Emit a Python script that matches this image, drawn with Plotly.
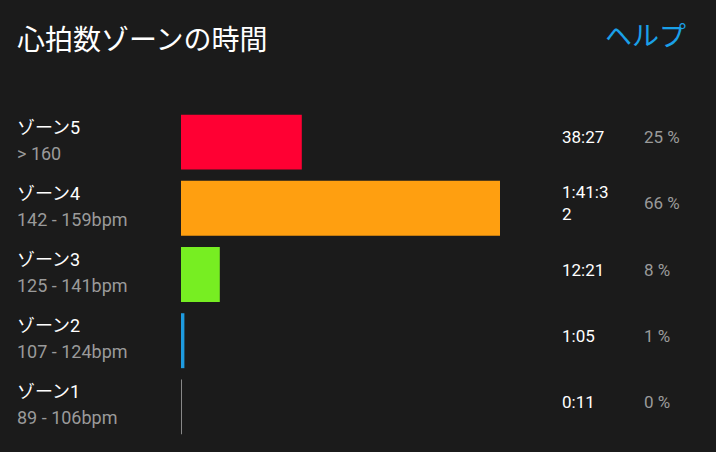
import plotly.graph_objects as go

zones = ["ゾーン5", "ゾーン4", "ゾーン3", "ゾーン2", "ゾーン1"]
ranges = ["> 160", "142 - 159bpm", "125 - 141bpm", "107 - 124bpm", "89 - 106bpm"]
seconds = [2307, 6092, 741, 65, 11]
times = ["38:27", "1:41:3<br>2", "12:21", "1:05", "0:11"]
percents = ["25 %", "66 %", "8 %", "1 %", "0 %"]
colors = ["#ff0033", "#ff9f10", "#77ee22", "#1e9be0", "#888888"]

W, H = 716, 452
font = "Roboto, 'Noto Sans CJK JP', sans-serif"

fig = go.Figure(go.Bar(
    x=seconds, y=zones, orientation="h",
    marker=dict(color=colors, line=dict(width=0)),
    hoverinfo="skip",
))

ann = [
    dict(x=15 / W, y=1 - 40 / H, xref="paper", yref="paper", text="心拍数ゾーンの時間",
         showarrow=False, xanchor="left", yanchor="middle",
         font=dict(size=28, color="#ffffff", family=font)),
    dict(x=688 / W, y=1 - 37 / H, xref="paper", yref="paper", text="ヘルプ",
         showarrow=False, xanchor="right", yanchor="middle",
         font=dict(size=27, color="#1aa0e8", family=font)),
]
for z, r, t, p in zip(zones, ranges, times, percents):
    ann.append(dict(x=15 / W, y=z, xref="paper", yref="y", text=z, showarrow=False,
                    xanchor="left", yanchor="middle", yshift=15,
                    font=dict(size=18, color="#ffffff", family=font)))
    ann.append(dict(x=15 / W, y=z, xref="paper", yref="y", text=r, showarrow=False,
                    xanchor="left", yanchor="middle", yshift=-11,
                    font=dict(size=18, color="#9a9a9a", family=font)))
    ann.append(dict(x=560 / W, y=z, xref="paper", yref="y", text=t, showarrow=False,
                    xanchor="left", yanchor="middle", align="left", yshift=5,
                    font=dict(size=17, color="#ffffff", family=font)))
    ann.append(dict(x=642 / W, y=z, xref="paper", yref="y", text=p, showarrow=False,
                    xanchor="left", yanchor="middle", yshift=5,
                    font=dict(size=17, color="#9a9a9a", family=font)))

fig.update_layout(
    width=W, height=H,
    margin=dict(l=0, r=0, t=0, b=0),
    paper_bgcolor="#1b1b1b", plot_bgcolor="#1b1b1b",
    bargap=0.17,
    showlegend=False,
    xaxis=dict(domain=[181 / W, 500 / W], range=[0, max(seconds)], visible=False, fixedrange=True),
    yaxis=dict(domain=[(H - 440) / H, (H - 109) / H], categoryorder="array",
               categoryarray=zones[::-1], visible=False, fixedrange=True),
    annotations=ann,
)

# page has a default 8px body margin; remove it
fig.write_html("out.html", config={"displayModeBar": False},
               post_script="document.body.style.margin='0';document.body.style.background='#1b1b1b';")
